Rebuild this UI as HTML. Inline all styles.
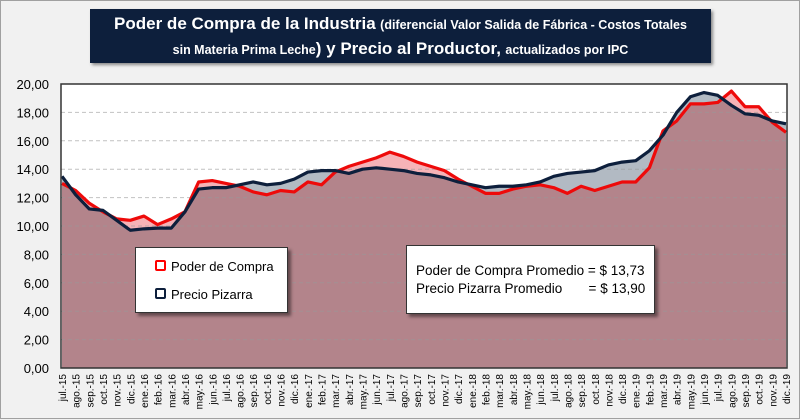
<!DOCTYPE html>
<html><head><meta charset="utf-8"><style>
body{margin:0;width:800px;height:419px;overflow:hidden;background:#f0f0f0;font-family:"Liberation Sans",sans-serif;}
#wrap{position:absolute;left:0;top:0;width:798px;height:417px;border:1px solid #a0a0a0;background:#f1f1f1;}
#title{position:absolute;left:89px;top:8px;width:621px;height:54px;background:#0d1f3c;color:#fff;text-align:center;font-weight:bold;box-shadow:2px 2px 3px #888;}
#title div{line-height:24px;white-space:nowrap}
.big{font-size:17px}.sm{font-size:12.5px}
.box{position:absolute;background:#fff;border:1px solid #333;box-shadow:3px 3px 3px rgba(0,0,0,0.45);font-size:13px;color:#000}
</style></head><body>
<div id="wrap">
<div id="title">
<div style="margin-top:3px"><span class="big">Poder de Compra de la Industria</span> <span class="sm">(diferencial Valor Salida de Fábrica - Costos Totales</span></div>
<div><span class="sm">sin Materia Prima Leche</span><span class="big">) y Precio al Productor,</span> <span class="sm">actualizados por IPC</span></div>
</div>
<svg id="chart" width="800" height="419" style="position:absolute;left:0;top:0"></svg>
<div class="box" style="left:134px;top:246px;width:151px;height:64px">
<div style="position:absolute;left:19px;top:11px"><span style="display:inline-block;width:7px;height:7px;background:#fff;border:2px solid #f00;border-radius:2px;margin-right:5px"></span>Poder de Compra</div>
<div style="position:absolute;left:19px;top:39px"><span style="display:inline-block;width:7px;height:7px;background:#fff;border:2px solid #0d1f3c;border-radius:2px;margin-right:5px"></span>Precio Pizarra</div>
</div>
<div class="box" style="left:405px;top:244px;width:247px;height:67px;font-size:13.5px">
<div style="position:absolute;left:9px;top:17px;white-space:pre">Poder de Compra Promedio = $ 13,73</div>
<div style="position:absolute;left:9px;top:35px;white-space:pre">Precio Pizarra Promedio       = $ 13,90</div>
</div>
</div>
<script>
const categories=["jul.-15","ago.-15","sep.-15","oct.-15","nov.-15","dic.-15","ene.-16","feb.-16","mar.-16","abr.-16","may.-16","jun.-16","jul.-16","ago.-16","sep.-16","oct.-16","nov.-16","dic.-16","ene.-17","feb.-17","mar.-17","abr.-17","may.-17","jun.-17","jul.-17","ago.-17","sep.-17","oct.-17","nov.-17","dic.-17","ene.-18","feb.-18","mar.-18","abr.-18","may.-18","jun.-18","jul.-18","ago.-18","sep.-18","oct.-18","nov.-18","dic.-18","ene.-19","feb.-19","mar.-19","abr.-19","may.-19","jun.-19","jul.-19","ago.-19","sep.-19","oct.-19","nov.-19","dic.-19"];
const poderCompra=[13.0,12.5,11.6,11.0,10.5,10.4,10.7,10.1,10.5,11.0,13.1,13.2,13.0,12.8,12.4,12.2,12.5,12.4,13.1,12.9,13.8,14.2,14.5,14.8,15.2,14.9,14.5,14.2,13.9,13.3,12.8,12.3,12.3,12.6,12.8,12.9,12.7,12.3,12.8,12.5,12.8,13.1,13.1,14.1,16.7,17.4,18.6,18.6,18.7,19.5,18.4,18.4,17.3,16.6];
const precioPizarra=[13.5,12.2,11.2,11.1,10.4,9.7,9.8,9.85,9.85,11.0,12.6,12.7,12.7,12.9,13.1,12.9,13.0,13.3,13.8,13.9,13.9,13.7,14.0,14.1,14.0,13.9,13.7,13.6,13.4,13.1,12.9,12.7,12.8,12.8,12.9,13.1,13.5,13.7,13.8,13.9,14.3,14.5,14.6,15.3,16.4,18.0,19.1,19.4,19.2,18.5,17.9,17.8,17.4,17.2];
const yTicks=[0,2,4,6,8,10,12,14,16,18,20];
const NS="http://www.w3.org/2000/svg";
const svg=document.getElementById('chart');
const L=60,R=786,T=83,B=367;
function x(i){return L+1+(R-L-2)*i/(categories.length-1);}
function y(v){return B-(B-T)*v/20;}
function mk(tag,a){const e=document.createElementNS(NS,tag);for(const k in a)e.setAttribute(k,a[k]);svg.appendChild(e);return e;}
const bg=mk('rect',{x:L,y:T,width:R-L,height:B-T,fill:'#fff'});


function areaD(arr){let d='M'+x(0)+','+y(0);arr.forEach((v,i)=>d+=' L'+x(i)+','+y(v));return d+' L'+x(arr.length-1)+','+y(0)+' Z';}
function lineD(arr){return arr.map((v,i)=>(i?'L':'M')+x(i)+','+y(v)).join(' ');}
const defs=mk('defs',{});
const cp=document.createElementNS(NS,'clipPath');cp.setAttribute('id','cpb');defs.appendChild(cp);
const cpp=document.createElementNS(NS,'path');cpp.setAttribute('d',areaD(precioPizarra));cp.appendChild(cpp);
const a1=mk('path',{d:areaD(poderCompra),fill:'#f6b3b7'});


const a2=mk('path',{d:areaD(precioPizarra),fill:'#b2bac3'});


const a3=mk('path',{d:areaD(poderCompra),fill:'#b3848b','clip-path':'url(#cpb)'});


yTicks.forEach(v=>{
  if(v>0&&v<20){const g=mk('line',{x1:L,x2:R,y1:y(v),y2:y(v),stroke:'#999','stroke-dasharray':'4,3','stroke-width':1,opacity:0.6});
  
  }
  const t=mk('text',{x:L-12,y:y(v)+5,'text-anchor':'end','font-size':'13','font-family':'Liberation Sans, sans-serif',fill:'#000'});
  t.textContent=v.toFixed(2).replace('.',',');
  
  
});
const l1=mk('path',{d:lineD(poderCompra),fill:'none',stroke:'#ee0a0a','stroke-width':3.2,'stroke-linejoin':'round'});


const l2=mk('path',{d:lineD(precioPizarra),fill:'none',stroke:'#0d1f3c','stroke-width':3.2,'stroke-linejoin':'round'});


const fr=mk('rect',{x:L,y:T,width:R-L,height:B-T,fill:'none',stroke:'#333','stroke-width':1.5});


categories.forEach((c,i)=>{
  const t=mk('text',{x:0,y:0,'text-anchor':'end','font-size':'10','font-family':'Liberation Sans, sans-serif',fill:'#000',transform:'translate('+(x(i)+4)+','+(B+6)+') rotate(-90)'});
  t.textContent=c;
  
  
});
</script>
</body></html>
